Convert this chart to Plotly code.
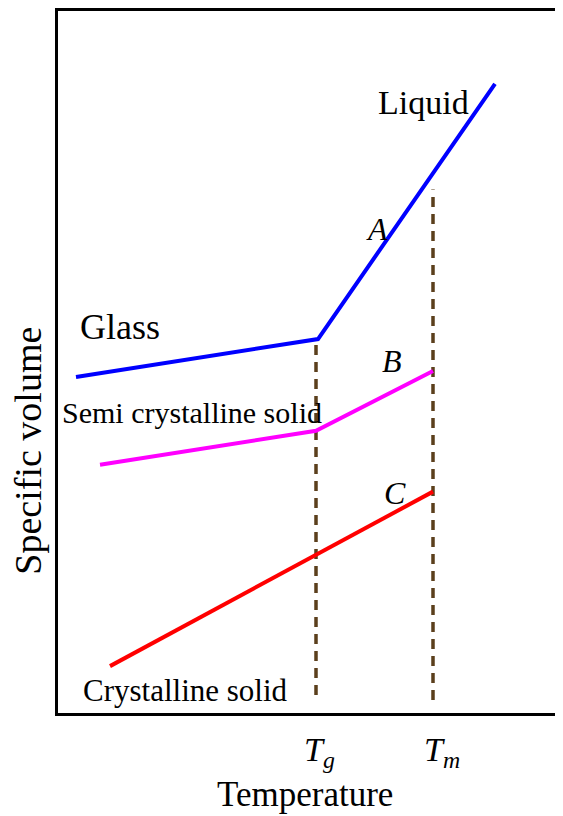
import plotly.graph_objects as go

# Data (arbitrary units): temperature and specific volume
glass_liquid_T = [76, 318, 495]
glass_liquid_V = [337, 375, 631]
semi_T = [100, 316, 433]
semi_V = [249, 283, 343]
cryst_T = [110, 433]
cryst_V = [47, 222]
Tg = 316
Tm = 433
Tg_line_V = [18, 375]
Tm_line_V = [13, 525]

x_range = [58, 563]
y_range = [0, 704]

SERIF = "Liberation Serif, Times New Roman, serif"
DASH_COLOR = "#5b3f1c"

fig = go.Figure()
fig.add_trace(go.Scatter(x=[Tg, Tg], y=Tg_line_V, mode="lines",
                         line=dict(color=DASH_COLOR, width=3.5, dash="10px,7px")))
fig.add_trace(go.Scatter(x=[Tm, Tm], y=Tm_line_V, mode="lines",
                         line=dict(color=DASH_COLOR, width=3.5, dash="10px,7px")))
fig.add_trace(go.Scatter(x=glass_liquid_T, y=glass_liquid_V, mode="lines",
                         line=dict(color="#0000ff", width=4)))
fig.add_trace(go.Scatter(x=semi_T, y=semi_V, mode="lines",
                         line=dict(color="#ff00ff", width=4)))
fig.add_trace(go.Scatter(x=cryst_T, y=cryst_V, mode="lines",
                         line=dict(color="#ff0000", width=4)))


def ann(x, y, text, size, italic=False, xref="x", yref="y", angle=0):
    t = f"<i>{text}</i>" if italic else text
    fig.add_annotation(x=x, y=y, xref=xref, yref=yref, xanchor="center",
                       yanchor="middle", text=t, showarrow=False, textangle=angle,
                       font=dict(family=SERIF, size=size, color="black"))


ann(423, 612, "Liquid", 34)
ann(377, 485, "A", 32, italic=True)
ann(120, 387, "Glass", 36)
ann(392, 353, "B", 32, italic=True)
ann(192, 301, "Semi crystalline solid", 30)
ann(395, 221, "C", 32, italic=True)
ann(185, 23, "Crystalline solid", 31)

ann(Tg + 3, -0.055, "T<sub>g</sub>", 34, italic=True, yref="paper")
ann(Tm + 9, -0.055, "T<sub>m</sub>", 34, italic=True, yref="paper")
ann(305, -0.116, "Temperature", 35, yref="paper")
ann(-0.059, 0.374, "Specific volume", 38, xref="paper", yref="paper", angle=-90)

fig.update_layout(
    width=555, height=808,
    margin=dict(l=50, r=0, t=1, b=103, pad=0),
    paper_bgcolor="white", plot_bgcolor="white",
    showlegend=False,
    xaxis=dict(range=x_range, showgrid=False, zeroline=False, showticklabels=False,
               ticks="", showline=True, linecolor="black", linewidth=3, mirror=True),
    yaxis=dict(range=y_range, showgrid=False, zeroline=False, showticklabels=False,
               ticks="", showline=True, linecolor="black", linewidth=3, mirror=False),
)

fig.write_html("out.html")
